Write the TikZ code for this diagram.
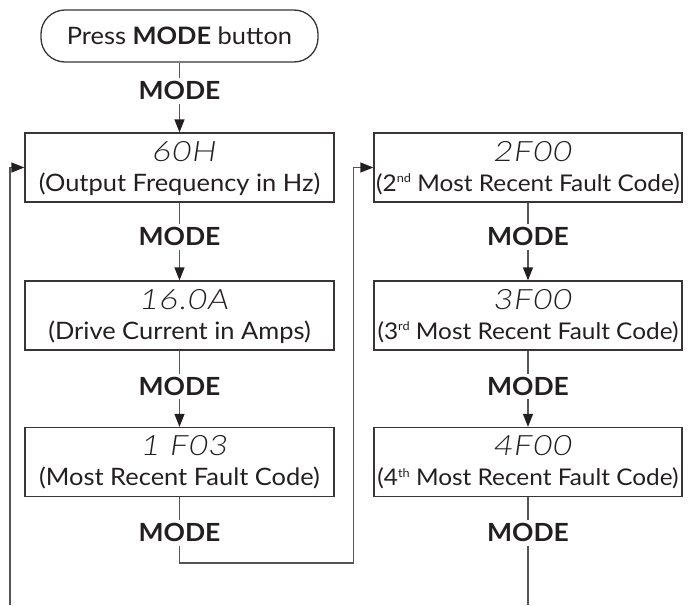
\documentclass[tikz,border=0pt]{standalone}
\usepackage{fontspec}
\setmainfont{Lato}[FakeStretch=1.06]
\newfontfamily\segfont{Lato Light}[FakeSlant=0.15, FakeStretch=1.15, LetterSpace=4]
\usetikzlibrary{arrows.meta,calc}
\definecolor{ink}{HTML}{231F20}
\definecolor{linec}{HTML}{555555}
\newcommand{\supx}[1]{\raisebox{0.75ex}{\fontsize{12}{12}\selectfont #1}}
\begin{document}
\begin{tikzpicture}[x=1pt,y=-1pt,
  font=\fontsize{24}{28}\selectfont, text=ink,
  box/.style={draw=ink!90, line width=1.3pt, minimum width=309pt, minimum height=69pt, inner sep=0pt},
  lbl/.style={font=\fontsize{25}{28}\selectfont\bfseries, text height=17pt, text depth=0pt, inner sep=4pt},
  conn/.style={draw=linec, line width=1.3pt},
  arr/.style={conn, -{Triangle[length=13pt,width=10pt,color=ink]}},
  seg/.style={font=\fontsize{28}{32}\selectfont\segfont, inner sep=0pt, anchor=center},
  desc/.style={anchor=base, inner sep=0pt},
  descr/.style={desc, font=\fontsize{23}{27}\selectfont}]
\useasboundingbox (0,0) rectangle (690,605);

% start
\node[draw=ink!90, line width=1.3pt, rounded corners=24pt, minimum width=277pt, minimum height=52pt, inner sep=0pt] (start) at (179.5,36) {Press \textbf{MODE} button};
\node[lbl] (m0) at (179.5,91) {MODE};

% left column boxes
\node[box] (b1) at (179.5,167.5) {};
\node[seg] (b1s) at ($(b1.north)+(4,19)$) {60H};
\node[desc] (b1d) at ($(b1.north)+(0,59)$) {(Output Frequency in Hz)};
\node[lbl] (m1) at (179.5,237) {MODE};

\node[box] (b2) at (179.5,315.5) {};
\node[seg] (b2s) at ($(b2.north)+(4,19)$) {16.0A};
\node[desc] (b2d) at ($(b2.north)+(0,59)$) {(Drive Current in Amps)};
\node[lbl] (m2) at (179.5,386.5) {MODE};

\node[box] (b3) at (179.5,462) {};
\node[seg] (b3s) at ($(b3.north)+(4,19)$) {1 F03};
\node[desc] (b3d) at ($(b3.north)+(0,59)$) {(Most Recent Fault Code)};
\node[lbl] (m3) at (179.5,533) {MODE};

% right column boxes
\node[box, minimum width=308pt] (c1) at (528,167.5) {};
\node[seg] (c1s) at ($(c1.north)+(4,19)$) {2F00};
\node[descr] (c1d) at ($(c1.north)+(0,59)$) {(2\supx{nd} Most Recent Fault Code)};
\node[lbl] (n1) at (528,237) {MODE};

\node[box, minimum width=308pt] (c2) at (528,315.5) {};
\node[seg] (c2s) at ($(c2.north)+(4,19)$) {3F00};
\node[descr] (c2d) at ($(c2.north)+(0,59)$) {(3\supx{rd} Most Recent Fault Code)};
\node[lbl] (n2) at (528,386.5) {MODE};

\node[box, minimum width=308pt] (c3) at (528,462) {};
\node[seg] (c3s) at ($(c3.north)+(4,19)$) {4F00};
\node[descr] (c3d) at ($(c3.north)+(0,59)$) {(4\supx{th} Most Recent Fault Code)};
\node[lbl] (n3) at (528,533) {MODE};

% connectors
\draw[conn] (start) -- (m0);
\draw[arr] (m0) -- (b1);
\draw[conn] (b1) -- (m1);
\draw[arr] (m1) -- (b2);
\draw[conn] (b2) -- (m2);
\draw[arr] (m2) -- (b3);
\draw[conn] (b3) -- (m3);

\draw[conn] (c1) -- (n1);
\draw[arr] (n1) -- (c2);
\draw[conn] (c2) -- (n2);
\draw[arr] (n2) -- (c3);
\draw[conn] (c3) -- (n3);

\coordinate (t1) at (353.5,563);
\draw[arr] (m3.south) |- (t1) |- (c1.west);

\coordinate (e1) at (10,605);
\draw[arr] (e1) |- (b1.west);

\coordinate (e2) at (528,605);
\draw[conn] (n3) -- (e2);
\end{tikzpicture}
\end{document}
